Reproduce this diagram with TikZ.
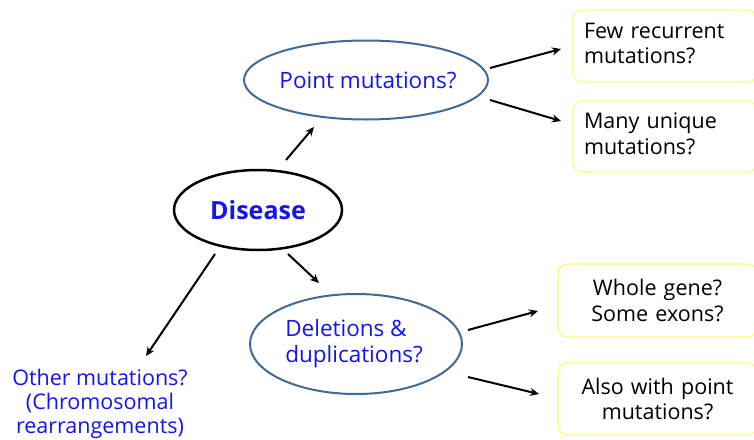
\documentclass[tikz,border=0pt]{standalone}
\usepackage{fontspec}
\setmainfont{Open Sans}
\usetikzlibrary{arrows.meta,shapes.geometric}
\definecolor{txtblue}{RGB}{20,20,240}
\definecolor{ellblue}{RGB}{65,105,150}
\definecolor{boxyellow}{RGB}{255,250,120}
\tikzset{
  conn/.style={line width=2pt,-{Stealth[length=9pt,width=8pt]}},
  ybox/.style={draw=boxyellow,line width=1.2pt,rounded corners=9pt,fill=white,font=\fontsize{21.5}{25.5}\selectfont,inner xsep=11pt},
  ell/.style={ellipse,draw,line width=2pt,inner sep=0pt,text=txtblue},
}
\begin{document}
\begin{tikzpicture}[x=1pt,y=-1pt]
\useasboundingbox (0,0) rectangle (754,439);
\clip (0,0) rectangle (754,439);
% ellipses
\node[ell,draw=black,line width=2.5pt,minimum width=168pt,minimum height=80pt,font=\fontsize{25}{30}\selectfont\bfseries] (dis) at (258,210) {\makebox[0pt]{Disease}};
\node[ell,draw=ellblue,minimum width=244pt,minimum height=79pt,font=\fontsize{22.5}{26}\selectfont] (pm) at (366,80) {\raisebox{-7pt}{\makebox[0pt]{\hspace*{4pt}Point mutations?}}};
\node[ell,draw=ellblue,minimum width=212pt,minimum height=100pt,font=\fontsize{22.5}{26}\selectfont] (del) at (356,344) {\makebox[0pt]{\begin{tabular}{@{}l@{}}\hspace*{-4pt}Deletions \&\\\hspace*{-4pt}duplications?\end{tabular}}};
% other
\node[text=txtblue,align=center,font=\fontsize{21.5}{24}\selectfont] (oth) at (100,404) {Other mutations?\\(Chromosomal\\rearrangements)};
% boxes
\node[ybox,minimum width=184pt,minimum height=72pt,text width=162pt,align=left] (few) at (665,46) {\raisebox{6pt}{\begin{tabular}{@{}l@{}}Few recurrent\\mutations?\end{tabular}}};
\node[ybox,minimum width=184pt,minimum height=71pt,text width=162pt,align=left] (many) at (665,136.5) {\raisebox{3pt}{\begin{tabular}{@{}l@{}}Many unique\\mutations?\end{tabular}}};
\node[ybox,minimum width=199pt,minimum height=73pt,text width=177pt,align=center] (whole) at (657.5,300.5) {Whole gene?\\Some exons?};
\node[ybox,minimum width=199pt,minimum height=72pt,text width=177pt,align=center] (also) at (657.5,399) {Also with point\\mutations?};
% connectors
\coordinate (a1s) at (286,160); \coordinate (a1e) at (314,127);
\coordinate (a2s) at (288,254); \coordinate (a2e) at (319,283);
\coordinate (a3s) at (215,254); \coordinate (a3e) at (146,356);
\coordinate (b1s) at (490,68); \coordinate (b1e) at (561,49);
\coordinate (b2s) at (490,100); \coordinate (b2e) at (561,121);
\coordinate (c1s) at (468,330); \coordinate (c1e) at (538,311);
\coordinate (c2s) at (468,377); \coordinate (c2e) at (539,394);
\draw[conn] (a1s) -- (a1e);
\draw[conn] (a2s) -- (a2e);
\draw[conn] (a3s) -- (a3e);
\draw[conn] (b1s) -- (b1e);
\draw[conn] (b2s) -- (b2e);
\draw[conn] (c1s) -- (c1e);
\draw[conn] (c2s) -- (c2e);
\end{tikzpicture}
\end{document}
